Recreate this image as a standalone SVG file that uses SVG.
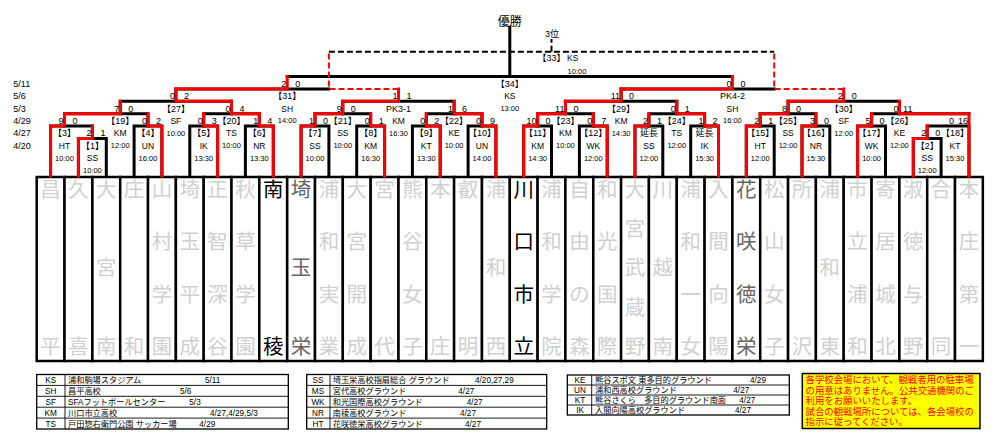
<svg xmlns="http://www.w3.org/2000/svg" width="1000" height="447" viewBox="0 0 1000 447">
<style>
text{font-family:"Liberation Sans","Noto Sans CJK JP",sans-serif;fill:#000}
.s{font-size:9px}
.e{text-anchor:end}
.lb{font-size:9px;text-anchor:middle}
.v{font-size:8.5px;text-anchor:middle}
.tm{font-size:7.5px;text-anchor:middle}
.nm{font-family:"Noto Sans CJK JP",sans-serif;font-size:20.5px;text-anchor:middle;fill:#d0d0d0}
.nb{fill:#000}
.nd{fill:#666}
.cell{stroke:#000;stroke-width:2.5}
.k{fill:none;stroke:#000;stroke-width:3;stroke-linecap:square}
.r{fill:none;stroke:#f00;stroke-width:3;stroke-linecap:square}
.rd{fill:none;stroke:#f00;stroke-width:2;stroke-dasharray:6 3}
.kd{fill:none;stroke:#000;stroke-width:2;stroke-dasharray:6 3}
.lg{fill:#fff;stroke:#000;stroke-width:1.3}
.ln{stroke:#000;stroke-width:0.9}
.lt{font-size:8.2px}
.lc{font-size:8.2px;text-anchor:middle}
.nt{font-family:"Noto Sans CJK JP",sans-serif;font-size:9.4px;fill:#f00}
</style>
<rect width="1000" height="447" fill="#fff"/>

<g id="dates">
<text class="s" x="13.3" y="86.7">5/11</text>
<text class="s" x="13.3" y="99.1">5/6</text>
<text class="s" x="13.3" y="111.5">5/3</text>
<text class="s" x="13.3" y="123.9">4/29</text>
<text class="s" x="13.3" y="136.3">4/27</text>
<text class="s" x="13.3" y="148.7">4/20</text>
</g>

<g id="teams">
<g id="team-0"><rect class="cell" fill="#fff" x="36.7" y="177" width="27.83" height="184"/><text class="nm"><tspan x="50.6" y="196.8">昌</tspan><tspan x="50.6" y="353.8">平</tspan></text></g>
<g id="team-1"><rect class="cell" fill="#fff" x="64.5" y="177" width="27.83" height="184"/><text class="nm"><tspan x="78.4" y="196.8">久</tspan><tspan x="78.4" y="353.8">喜</tspan></text></g>
<g id="team-2"><rect class="cell" fill="#fff" x="92.4" y="177" width="27.83" height="184"/><text class="nm"><tspan x="106.3" y="196.8">大</tspan><tspan x="106.3" y="275.3">宮</tspan><tspan x="106.3" y="353.8">南</tspan></text></g>
<g id="team-3"><rect class="cell" fill="#fff" x="120.2" y="177" width="27.83" height="184"/><text class="nm"><tspan x="134.1" y="196.8">庄</tspan><tspan x="134.1" y="353.8">和</tspan></text></g>
<g id="team-4"><rect class="cell" fill="#fff" x="148" y="177" width="27.83" height="184"/><text class="nm"><tspan x="161.9" y="196.8">山</tspan><tspan x="161.9" y="249.1">村</tspan><tspan x="161.9" y="301.5">学</tspan><tspan x="161.9" y="353.8">園</tspan></text></g>
<g id="team-5"><rect class="cell" fill="#fff" x="175.9" y="177" width="27.83" height="184"/><text class="nm"><tspan x="189.8" y="196.8">埼</tspan><tspan x="189.8" y="249.1">玉</tspan><tspan x="189.8" y="301.5">平</tspan><tspan x="189.8" y="353.8">成</tspan></text></g>
<g id="team-6"><rect class="cell" fill="#fff" x="203.7" y="177" width="27.83" height="184"/><text class="nm"><tspan x="217.6" y="196.8">正</tspan><tspan x="217.6" y="249.1">智</tspan><tspan x="217.6" y="301.5">深</tspan><tspan x="217.6" y="353.8">谷</tspan></text></g>
<g id="team-7"><rect class="cell" fill="#fff" x="231.5" y="177" width="27.83" height="184"/><text class="nm"><tspan x="245.4" y="196.8">秋</tspan><tspan x="245.4" y="249.1">草</tspan><tspan x="245.4" y="301.5">学</tspan><tspan x="245.4" y="353.8">園</tspan></text></g>
<g id="team-8"><rect class="cell" fill="#fff" x="259.3" y="177" width="27.83" height="184"/><text class="nm nb"><tspan x="273.3" y="196.8">南</tspan><tspan x="273.3" y="353.8">稜</tspan></text></g>
<g id="team-9"><rect class="cell" fill="#fff" x="287.2" y="177" width="27.83" height="184"/><text class="nm nd"><tspan x="301.1" y="196.8">埼</tspan><tspan x="301.1" y="275.3">玉</tspan><tspan x="301.1" y="353.8">栄</tspan></text></g>
<g id="team-10"><rect class="cell" fill="#fff" x="315" y="177" width="27.83" height="184"/><text class="nm"><tspan x="328.9" y="196.8">浦</tspan><tspan x="328.9" y="249.1">和</tspan><tspan x="328.9" y="301.5">実</tspan><tspan x="328.9" y="353.8">業</tspan></text></g>
<g id="team-11"><rect class="cell" fill="#fff" x="342.8" y="177" width="27.83" height="184"/><text class="nm"><tspan x="356.7" y="196.8">大</tspan><tspan x="356.7" y="249.1">宮</tspan><tspan x="356.7" y="301.5">開</tspan><tspan x="356.7" y="353.8">成</tspan></text></g>
<g id="team-12"><rect class="cell" fill="#fff" x="370.7" y="177" width="27.83" height="184"/><text class="nm"><tspan x="384.6" y="196.8">宮</tspan><tspan x="384.6" y="353.8">代</tspan></text></g>
<g id="team-13"><rect class="cell" fill="#fff" x="398.5" y="177" width="27.83" height="184"/><text class="nm"><tspan x="412.4" y="196.8">熊</tspan><tspan x="412.4" y="249.1">谷</tspan><tspan x="412.4" y="301.5">女</tspan><tspan x="412.4" y="353.8">子</tspan></text></g>
<g id="team-14"><rect class="cell" fill="#fff" x="426.3" y="177" width="27.83" height="184"/><text class="nm"><tspan x="440.2" y="196.8">本</tspan><tspan x="440.2" y="353.8">庄</tspan></text></g>
<g id="team-15"><rect class="cell" fill="#fff" x="454.1" y="177" width="27.83" height="184"/><text class="nm"><tspan x="468.1" y="196.8">叡</tspan><tspan x="468.1" y="353.8">明</tspan></text></g>
<g id="team-16"><rect class="cell" fill="#fff" x="482" y="177" width="27.83" height="184"/><text class="nm"><tspan x="495.9" y="196.8">浦</tspan><tspan x="495.9" y="275.3">和</tspan><tspan x="495.9" y="353.8">西</tspan></text></g>
<g id="team-17"><rect class="cell" fill="#fff" x="509.8" y="177" width="27.83" height="184"/><text class="nm nb"><tspan x="523.7" y="196.8">川</tspan><tspan x="523.7" y="249.1">口</tspan><tspan x="523.7" y="301.5">市</tspan><tspan x="523.7" y="353.8">立</tspan></text></g>
<g id="team-18"><rect class="cell" fill="#fff" x="537.6" y="177" width="27.83" height="184"/><text class="nm"><tspan x="551.5" y="196.8">浦</tspan><tspan x="551.5" y="249.1">和</tspan><tspan x="551.5" y="301.5">学</tspan><tspan x="551.5" y="353.8">院</tspan></text></g>
<g id="team-19"><rect class="cell" fill="#fff" x="565.4" y="177" width="27.83" height="184"/><text class="nm"><tspan x="579.4" y="196.8">自</tspan><tspan x="579.4" y="249.1">由</tspan><tspan x="579.4" y="301.5">の</tspan><tspan x="579.4" y="353.8">森</tspan></text></g>
<g id="team-20"><rect class="cell" fill="#fff" x="593.3" y="177" width="27.83" height="184"/><text class="nm"><tspan x="607.2" y="196.8">和</tspan><tspan x="607.2" y="249.1">光</tspan><tspan x="607.2" y="301.5">国</tspan><tspan x="607.2" y="353.8">際</tspan></text></g>
<g id="team-21"><rect class="cell" fill="#fff" x="621.1" y="177" width="27.83" height="184"/><text class="nm"><tspan x="635" y="196.8">大</tspan><tspan x="635" y="236.1">宮</tspan><tspan x="635" y="275.3">武</tspan><tspan x="635" y="314.6">蔵</tspan><tspan x="635" y="353.8">野</tspan></text></g>
<g id="team-22"><rect class="cell" fill="#fff" x="648.9" y="177" width="27.83" height="184"/><text class="nm"><tspan x="662.8" y="196.8">川</tspan><tspan x="662.8" y="275.3">越</tspan><tspan x="662.8" y="353.8">南</tspan></text></g>
<g id="team-23"><rect class="cell" fill="#fff" x="676.8" y="177" width="27.83" height="184"/><text class="nm"><tspan x="690.7" y="196.8">浦</tspan><tspan x="690.7" y="249.1">和</tspan><tspan x="690.7" y="301.5">一</tspan><tspan x="690.7" y="353.8">女</tspan></text></g>
<g id="team-24"><rect class="cell" fill="#fff" x="704.6" y="177" width="27.83" height="184"/><text class="nm"><tspan x="718.5" y="196.8">入</tspan><tspan x="718.5" y="249.1">間</tspan><tspan x="718.5" y="301.5">向</tspan><tspan x="718.5" y="353.8">陽</tspan></text></g>
<g id="team-25"><rect class="cell" fill="#fff" x="732.4" y="177" width="27.83" height="184"/><text class="nm nd"><tspan x="746.3" y="196.8">花</tspan><tspan x="746.3" y="249.1">咲</tspan><tspan x="746.3" y="301.5">徳</tspan><tspan x="746.3" y="353.8">栄</tspan></text></g>
<g id="team-26"><rect class="cell" fill="#fff" x="760.2" y="177" width="27.83" height="184"/><text class="nm"><tspan x="774.2" y="196.8">松</tspan><tspan x="774.2" y="249.1">山</tspan><tspan x="774.2" y="301.5">女</tspan><tspan x="774.2" y="353.8">子</tspan></text></g>
<g id="team-27"><rect class="cell" fill="#fff" x="788.1" y="177" width="27.83" height="184"/><text class="nm"><tspan x="802" y="196.8">所</tspan><tspan x="802" y="353.8">沢</tspan></text></g>
<g id="team-28"><rect class="cell" fill="#fff" x="815.9" y="177" width="27.83" height="184"/><text class="nm"><tspan x="829.8" y="196.8">浦</tspan><tspan x="829.8" y="275.3">和</tspan><tspan x="829.8" y="353.8">東</tspan></text></g>
<g id="team-29"><rect class="cell" fill="#fff" x="843.7" y="177" width="27.83" height="184"/><text class="nm"><tspan x="857.6" y="196.8">市</tspan><tspan x="857.6" y="249.1">立</tspan><tspan x="857.6" y="301.5">浦</tspan><tspan x="857.6" y="353.8">和</tspan></text></g>
<g id="team-30"><rect class="cell" fill="#fff" x="871.6" y="177" width="27.83" height="184"/><text class="nm"><tspan x="885.5" y="196.8">寄</tspan><tspan x="885.5" y="249.1">居</tspan><tspan x="885.5" y="301.5">城</tspan><tspan x="885.5" y="353.8">北</tspan></text></g>
<g id="team-31"><rect class="cell" fill="#fff" x="899.4" y="177" width="27.83" height="184"/><text class="nm"><tspan x="913.3" y="196.8">淑</tspan><tspan x="913.3" y="249.1">徳</tspan><tspan x="913.3" y="301.5">与</tspan><tspan x="913.3" y="353.8">野</tspan></text></g>
<g id="team-32"><rect class="cell" fill="#fff" x="927.2" y="177" width="27.83" height="184"/><text class="nm"><tspan x="941.1" y="196.8">合</tspan><tspan x="941.1" y="353.8">同</tspan></text></g>
<g id="team-33"><rect class="cell" fill="#fff" x="955" y="177" width="27.83" height="184"/><text class="nm"><tspan x="969" y="196.8">本</tspan><tspan x="969" y="249.1">庄</tspan><tspan x="969" y="301.5">第</tspan><tspan x="969" y="353.8">一</tspan></text></g>
</g>

<g id="connectors">
<path class="k" d="M78.4,176 V138.5 H106.3 V176"/>
<path class="k" d="M913.3,176 V138.5 H941.1 V176"/>
<path class="k" d="M50.6,176 V126.1 H92.4 V138.5"/>
<path class="k" d="M134.1,176 V126.1 H161.9 V176"/>
<path class="k" d="M189.8,176 V126.1 H217.6 V176"/>
<path class="k" d="M245.4,176 V126.1 H273.3 V176"/>
<path class="k" d="M301.1,176 V126.1 H328.9 V176"/>
<path class="k" d="M356.7,176 V126.1 H384.6 V176"/>
<path class="k" d="M412.4,176 V126.1 H440.2 V176"/>
<path class="k" d="M468.1,176 V126.1 H495.9 V176"/>
<path class="k" d="M523.7,176 V126.1 H551.5 V176"/>
<path class="k" d="M579.4,176 V126.1 H607.2 V176"/>
<path class="k" d="M635,176 V126.1 H662.8 V176"/>
<path class="k" d="M690.7,176 V126.1 H718.5 V176"/>
<path class="k" d="M746.3,176 V126.1 H774.2 V176"/>
<path class="k" d="M802,176 V126.1 H829.8 V176"/>
<path class="k" d="M857.6,176 V126.1 H885.5 V176"/>
<path class="k" d="M927.2,138.5 V126.1 H969 V176"/>
<path class="k" d="M64.5,126.1 V113.7 H148 V126.1"/>
<path class="k" d="M203.7,126.1 V113.7 H259.3 V126.1"/>
<path class="k" d="M315,126.1 V113.7 H370.7 V126.1"/>
<path class="k" d="M426.3,126.1 V113.7 H482 V126.1"/>
<path class="k" d="M537.6,126.1 V113.7 H593.3 V126.1"/>
<path class="k" d="M648.9,126.1 V113.7 H704.6 V126.1"/>
<path class="k" d="M760.2,126.1 V113.7 H815.9 V126.1"/>
<path class="k" d="M871.6,126.1 V113.7 H969"/>
<path class="k" d="M120.2,113.7 V101.3 H231.5 V113.7"/>
<path class="k" d="M342.8,113.7 V101.3 H454.1 V113.7"/>
<path class="k" d="M565.4,113.7 V101.3 H676.8 V113.7"/>
<path class="k" d="M788.1,113.7 V101.3 H899.4 V113.7"/>
<path class="k" d="M175.9,101.3 V88.9 H328.9"/>
<path class="k" d="M621.1,101.3 V88.9 H774.2"/>
<path class="k" d="M287.2,76.5 H732.4"/>
<path class="k" d="M509.8,76.5 V27"/>
<path class="kd" d="M328.9,51.7 H774.2"/>
<path class="kd" d="M551.5,51.7 V39" stroke-width="1.5" stroke-dasharray="4 2"/>
<path class="rd" d="M398.5,88.9 H328.9 V51.7"/>
<path class="rd" d="M843.7,88.9 H774.2 V51.7"/>
<path class="r" d="M78.4,176 V138.5 H92.4 V126.1"/>
<path class="r" d="M913.3,176 V138.5 H927.2 V126.1"/>
<path class="r" d="M50.6,176 V126.1 H64.5 V113.7"/>
<path class="r" d="M161.9,176 V126.1 H148 V113.7"/>
<path class="r" d="M217.6,176 V126.1 H203.7 V113.7"/>
<path class="r" d="M273.3,176 V126.1 H259.3 V113.7"/>
<path class="r" d="M301.1,176 V126.1 H315 V113.7"/>
<path class="r" d="M384.6,176 V126.1 H370.7 V113.7"/>
<path class="r" d="M440.2,176 V126.1 H426.3 V113.7"/>
<path class="r" d="M495.9,176 V126.1 H482 V113.7"/>
<path class="r" d="M523.7,176 V126.1 H537.6 V113.7"/>
<path class="r" d="M607.2,176 V126.1 H593.3 V113.7"/>
<path class="r" d="M635,176 V126.1 H648.9 V113.7"/>
<path class="r" d="M718.5,176 V126.1 H704.6 V113.7"/>
<path class="r" d="M746.3,176 V126.1 H760.2 V113.7"/>
<path class="r" d="M802,176 V126.1 H815.9 V113.7"/>
<path class="r" d="M857.6,176 V126.1 H871.6 V113.7"/>
<path class="r" d="M969,176 V113.7 H899.4 V101.3"/>
<path class="r" d="M64.5,113.7 H120.2 V101.3"/>
<path class="r" d="M259.3,113.7 H231.5 V101.3"/>
<path class="r" d="M315,113.7 H342.8 V101.3"/>
<path class="r" d="M482,113.7 H454.1 V101.3"/>
<path class="r" d="M537.6,113.7 H565.4 V101.3"/>
<path class="r" d="M704.6,113.7 H676.8 V101.3"/>
<path class="r" d="M760.2,113.7 H788.1 V101.3"/>
<path class="r" d="M231.5,101.3 H175.9 V88.9"/>
<path class="r" d="M342.8,101.3 H398.5 V88.9"/>
<path class="r" d="M565.4,101.3 H621.1 V88.9"/>
<path class="r" d="M788.1,101.3 H843.7 V88.9"/>
<path class="r" d="M175.9,88.9 H287.2 V76.5"/>
<path class="r" d="M621.1,88.9 H732.4 V76.5"/>
</g>

<g id="titles">
<text x="509.8" y="25.5" font-size="12" text-anchor="middle" font-family="Noto Sans CJK JP, sans-serif">優勝</text>
<text class="lb" x="552" y="37.3">3位</text>
</g>

<g id="m1"><text class="s e" x="91.4" y="136.3">2</text><text class="s e" x="105.4" y="136.3">1</text><text class="lb" x="92.4" y="148.7">【1】</text><text class="v" x="92.4" y="161.1">SS</text><text class="tm" x="92.4" y="173">10:00</text></g>
<g id="m2"><text class="s e" x="926.2" y="136.3">2</text><text class="s e" x="940.2" y="136.3">0</text><text class="lb" x="927.2" y="148.7">【2】</text><text class="v" x="927.2" y="161.1">SS</text><text class="tm" x="927.2" y="173">12:00</text></g>
<g id="m3"><text class="s e" x="63.5" y="123.9">9</text><text class="s e" x="77.5" y="123.9">0</text><text class="lb" x="64.5" y="136.3">【3】</text><text class="v" x="64.5" y="148.7">HT</text><text class="tm" x="64.5" y="160.6">10:00</text></g>
<g id="m4"><text class="s e" x="147" y="123.9">0</text><text class="s e" x="161" y="123.9">2</text><text class="lb" x="148" y="136.3">【4】</text><text class="v" x="148" y="148.7">UN</text><text class="tm" x="148" y="160.6">16:00</text></g>
<g id="m5"><text class="s e" x="202.7" y="123.9">0</text><text class="s e" x="216.7" y="123.9">3</text><text class="lb" x="203.7" y="136.3">【5】</text><text class="v" x="203.7" y="148.7">IK</text><text class="tm" x="203.7" y="160.6">13:30</text></g>
<g id="m6"><text class="s e" x="258.3" y="123.9">1</text><text class="s e" x="272.3" y="123.9">4</text><text class="lb" x="259.3" y="136.3">【6】</text><text class="v" x="259.3" y="148.7">NR</text><text class="tm" x="259.3" y="160.6">13:30</text></g>
<g id="m7"><text class="s e" x="314" y="123.9">1</text><text class="s e" x="328" y="123.9">0</text><text class="lb" x="315" y="136.3">【7】</text><text class="v" x="315" y="148.7">SS</text><text class="tm" x="315" y="160.6">10:00</text></g>
<g id="m8"><text class="s e" x="369.7" y="123.9">0</text><text class="s e" x="383.7" y="123.9">1</text><text class="lb" x="370.7" y="136.3">【8】</text><text class="v" x="370.7" y="148.7">KM</text><text class="tm" x="370.7" y="160.6">16:30</text></g>
<g id="m9"><text class="s e" x="425.3" y="123.9">0</text><text class="s e" x="439.3" y="123.9">2</text><text class="lb" x="426.3" y="136.3">【9】</text><text class="v" x="426.3" y="148.7">KT</text><text class="tm" x="426.3" y="160.6">13:30</text></g>
<g id="m10"><text class="s e" x="481" y="123.9">0</text><text class="s e" x="495" y="123.9">9</text><text class="lb" x="482" y="136.3">【10】</text><text class="v" x="482" y="148.7">UN</text><text class="tm" x="482" y="160.6">14:00</text></g>
<g id="m11"><text class="s e" x="536.6" y="123.9">10</text><text class="s e" x="550.6" y="123.9">0</text><text class="lb" x="537.6" y="136.3">【11】</text><text class="v" x="537.6" y="148.7">KM</text><text class="tm" x="537.6" y="160.6">14:30</text></g>
<g id="m12"><text class="s e" x="592.3" y="123.9">0</text><text class="s e" x="606.3" y="123.9">7</text><text class="lb" x="593.3" y="136.3">【12】</text><text class="v" x="593.3" y="148.7">WK</text><text class="tm" x="593.3" y="160.6">12:00</text></g>
<g id="m13"><text class="s e" x="647.9" y="123.9">2</text><text class="s e" x="661.9" y="123.9">1</text><text class="lb" x="648.9" y="136.3">延長</text><text class="v" x="648.9" y="148.7">SS</text><text class="tm" x="648.9" y="160.6">12:00</text></g>
<g id="m14"><text class="s e" x="703.6" y="123.9">1</text><text class="s e" x="717.6" y="123.9">2</text><text class="lb" x="704.6" y="136.3">延長</text><text class="v" x="704.6" y="148.7">IK</text><text class="tm" x="704.6" y="160.6">15:30</text></g>
<g id="m15"><text class="s e" x="759.2" y="123.9">2</text><text class="s e" x="773.2" y="123.9">1</text><text class="lb" x="760.2" y="136.3">【15】</text><text class="v" x="760.2" y="148.7">HT</text><text class="tm" x="760.2" y="160.6">12:00</text></g>
<g id="m16"><text class="s e" x="814.9" y="123.9">3</text><text class="s e" x="828.9" y="123.9">0</text><text class="lb" x="815.9" y="136.3">【16】</text><text class="v" x="815.9" y="148.7">NR</text><text class="tm" x="815.9" y="160.6">15:30</text></g>
<g id="m17"><text class="s e" x="870.6" y="123.9">5</text><text class="s e" x="884.6" y="123.9">0</text><text class="lb" x="871.6" y="136.3">【17】</text><text class="v" x="871.6" y="148.7">WK</text><text class="tm" x="871.6" y="160.6">10:00</text></g>
<g id="m18"><text class="s e" x="954" y="123.9">0</text><text class="s e" x="968" y="123.9">16</text><text class="lb" x="955" y="136.3">【18】</text><text class="v" x="955" y="148.7">KT</text><text class="tm" x="955" y="160.6">15:30</text></g>
<g id="m19"><text class="s e" x="119.2" y="111.5">7</text><text class="s e" x="133.2" y="111.5">0</text><text class="lb" x="120.2" y="123.9">【19】</text><text class="v" x="120.2" y="136.3">KM</text><text class="tm" x="120.2" y="148.2">12:00</text></g>
<g id="m20"><text class="s e" x="230.5" y="111.5">0</text><text class="s e" x="244.5" y="111.5">4</text><text class="lb" x="231.5" y="123.9">【20】</text><text class="v" x="231.5" y="136.3">TS</text><text class="tm" x="231.5" y="148.2">10:00</text></g>
<g id="m21"><text class="s e" x="341.8" y="111.5">9</text><text class="s e" x="355.8" y="111.5">0</text><text class="lb" x="342.8" y="123.9">【21】</text><text class="v" x="342.8" y="136.3">SS</text><text class="tm" x="342.8" y="148.2">10:00</text></g>
<g id="m22"><text class="s e" x="453.1" y="111.5">1</text><text class="s e" x="467.1" y="111.5">6</text><text class="lb" x="454.1" y="123.9">【22】</text><text class="v" x="454.1" y="136.3">KE</text><text class="tm" x="454.1" y="148.2">10:00</text></g>
<g id="m23"><text class="s e" x="564.4" y="111.5">11</text><text class="s e" x="578.4" y="111.5">0</text><text class="lb" x="565.4" y="123.9">【23】</text><text class="v" x="565.4" y="136.3">KM</text><text class="tm" x="565.4" y="148.2">10:00</text></g>
<g id="m24"><text class="s e" x="675.8" y="111.5">0</text><text class="s e" x="689.8" y="111.5">1</text><text class="lb" x="676.8" y="123.9">【24】</text><text class="v" x="676.8" y="136.3">TS</text><text class="tm" x="676.8" y="148.2">12:00</text></g>
<g id="m25"><text class="s e" x="787.1" y="111.5">8</text><text class="s e" x="801.1" y="111.5">0</text><text class="lb" x="788.1" y="123.9">【25】</text><text class="v" x="788.1" y="136.3">SS</text><text class="tm" x="788.1" y="148.2">12:00</text></g>
<g id="m26"><text class="s e" x="898.4" y="111.5">0</text><text class="s e" x="912.4" y="111.5">11</text><text class="lb" x="899.4" y="123.9">【26】</text><text class="v" x="899.4" y="136.3">KE</text><text class="tm" x="899.4" y="148.2">12:00</text></g>
<g id="m27"><text class="s e" x="174.9" y="99.1">0</text><text class="s e" x="188.9" y="99.1">2</text><text class="lb" x="175.9" y="111.5">【27】</text><text class="v" x="175.9" y="123.9">SF</text><text class="tm" x="175.9" y="135.8">10:00</text></g>
<g id="m28"><text class="s e" x="397.5" y="99.1">1</text><text class="s e" x="411.5" y="99.1">1</text><text class="lb" x="398.5" y="111.5">PK3-1</text><text class="v" x="398.5" y="123.9">KM</text><text class="tm" x="398.5" y="135.8">16:30</text></g>
<g id="m29"><text class="s e" x="620.1" y="99.1">11</text><text class="s e" x="634.1" y="99.1">0</text><text class="lb" x="621.1" y="111.5">【29】</text><text class="v" x="621.1" y="123.9">KM</text><text class="tm" x="621.1" y="135.8">14:30</text></g>
<g id="m30"><text class="s e" x="842.7" y="99.1">2</text><text class="s e" x="856.7" y="99.1">0</text><text class="lb" x="843.7" y="111.5">【30】</text><text class="v" x="843.7" y="123.9">SF</text><text class="tm" x="843.7" y="135.8">12:00</text></g>
<g id="m31"><text class="s e" x="286.2" y="86.7">2</text><text class="s e" x="300.2" y="86.7">0</text><text class="lb" x="287.2" y="99.1">【31】</text><text class="v" x="287.2" y="111.5">SH</text><text class="tm" x="287.2" y="123.4">14:00</text></g>
<g id="m32"><text class="s e" x="731.4" y="86.7">0</text><text class="s e" x="745.4" y="86.7">0</text><text class="lb" x="732.4" y="99.1">PK4-2</text><text class="v" x="732.4" y="111.5">SH</text><text class="tm" x="732.4" y="123.4">16:00</text></g>
<g id="m34"><text class="lb" x="509.8" y="86.7">【34】</text><text class="v" x="509.8" y="99.1">KS</text><text class="tm" x="509.8" y="111">13:00</text></g>
<g id="m33"><text class="lb" x="551.5" y="61.2">【33】</text><text class="v" x="572.7" y="61.2">KS</text><text class="tm" x="577" y="73.6">10:00</text></g>

<g id="legend1">
<rect class="lg" x="36.7" y="374.5" width="251.6" height="54.5"/>
<line class="ln" x1="36.7" y1="385.4" x2="288.3" y2="385.4"/><line class="ln" x1="36.7" y1="396.3" x2="288.3" y2="396.3"/><line class="ln" x1="36.7" y1="407.2" x2="288.3" y2="407.2"/><line class="ln" x1="36.7" y1="418.1" x2="288.3" y2="418.1"/><line class="ln" x1="65" y1="374.5" x2="65" y2="429"/>
<text class="lc" x="50.7" y="383">KS</text><text class="lt" x="68" y="383">浦和駒場スタジアム</text><text class="lt" x="205" y="383">5/11</text>
<text class="lc" x="50.7" y="393.9">SH</text><text class="lt" x="68" y="393.9">昌平高校</text><text class="lt" x="180" y="393.9">5/6</text>
<text class="lc" x="50.7" y="404.8">SF</text><text class="lt" x="68" y="404.8">SFAフットボールセンター</text><text class="lt" x="189.3" y="404.8">5/3</text>
<text class="lc" x="50.7" y="415.7">KM</text><text class="lt" x="68" y="415.7">川口市立高校</text><text class="lt" x="210" y="415.7">4/27,4/29,5/3</text>
<text class="lc" x="50.7" y="426.6">TS</text><text class="lt" x="68" y="426.6">戸田惣右衛門公園 サッカー場</text><text class="lt" x="199.3" y="426.6">4/29</text>
</g>
<g id="legend2">
<rect class="lg" x="306.7" y="374.5" width="240" height="54.5"/>
<line class="ln" x1="306.7" y1="385.4" x2="546.7" y2="385.4"/><line class="ln" x1="306.7" y1="396.3" x2="546.7" y2="396.3"/><line class="ln" x1="306.7" y1="407.2" x2="546.7" y2="407.2"/><line class="ln" x1="306.7" y1="418.1" x2="546.7" y2="418.1"/><line class="ln" x1="330" y1="374.5" x2="330" y2="429"/>
<text class="lc" x="318" y="383">SS</text><text class="lt" x="332.7" y="383">埼玉栄高校指扇総合 グラウンド</text><text class="lt" x="475" y="383">4/20,27,29</text>
<text class="lc" x="318" y="393.9">MS</text><text class="lt" x="332.7" y="393.9">宮代高校グラウンド</text><text class="lt" x="458.3" y="393.9">4/27</text>
<text class="lc" x="318" y="404.8">WK</text><text class="lt" x="332.7" y="404.8">和光国際高校グラウンド</text><text class="lt" x="466.7" y="404.8">4/27</text>
<text class="lc" x="318" y="415.7">NR</text><text class="lt" x="332.7" y="415.7">南稜高校グラウンド</text><text class="lt" x="460" y="415.7">4/27</text>
<text class="lc" x="318" y="426.6">HT</text><text class="lt" x="332.7" y="426.6">花咲徳栄高校グラウンド</text><text class="lt" x="465" y="426.6">4/27</text>
</g>
<g id="legend3">
<rect class="lg" x="567.3" y="375" width="222" height="40"/>
<line class="ln" x1="567.3" y1="385" x2="789.3" y2="385"/><line class="ln" x1="567.3" y1="395" x2="789.3" y2="395"/><line class="ln" x1="567.3" y1="405" x2="789.3" y2="405"/><line class="ln" x1="591.7" y1="375" x2="591.7" y2="415"/>
<text class="lc" x="580" y="383">KE</text><text class="lt" x="595" y="383">熊谷スポ文 東多目的グラウンド</text><text class="lt" x="750" y="383">4/29</text>
<text class="lc" x="580" y="393">UN</text><text class="lt" x="595" y="393">浦和西高校グラウンド</text><text class="lt" x="733.3" y="393">4/27</text>
<text class="lc" x="580" y="403">KT</text><text class="lt" x="595" y="403">熊谷さくら　多目的グラウンド南面</text><text class="lt" x="739.3" y="403">4/27</text>
<text class="lc" x="580" y="413">IK</text><text class="lt" x="595" y="413">入間向陽高校グラウンド</text><text class="lt" x="735" y="413">4/27</text>
</g>
<g id="notice">
<rect x="802.3" y="373.5" width="177.7" height="55" fill="#ff0" stroke="#000" stroke-width="1.5"/>
<text class="nt" x="805.5" y="383.3">各学校会場において、観戦者用の駐車場</text>
<text class="nt" x="805.5" y="393.8">の用意はありません。公共交通機関のご</text>
<text class="nt" x="805.5" y="404">利用をお願いいたします。</text>
<text class="nt" x="805.5" y="414.5">試合の観戦場所については、各会場校の</text>
<text class="nt" x="805.5" y="425">指示に従ってください。</text>
</g>
</svg>
